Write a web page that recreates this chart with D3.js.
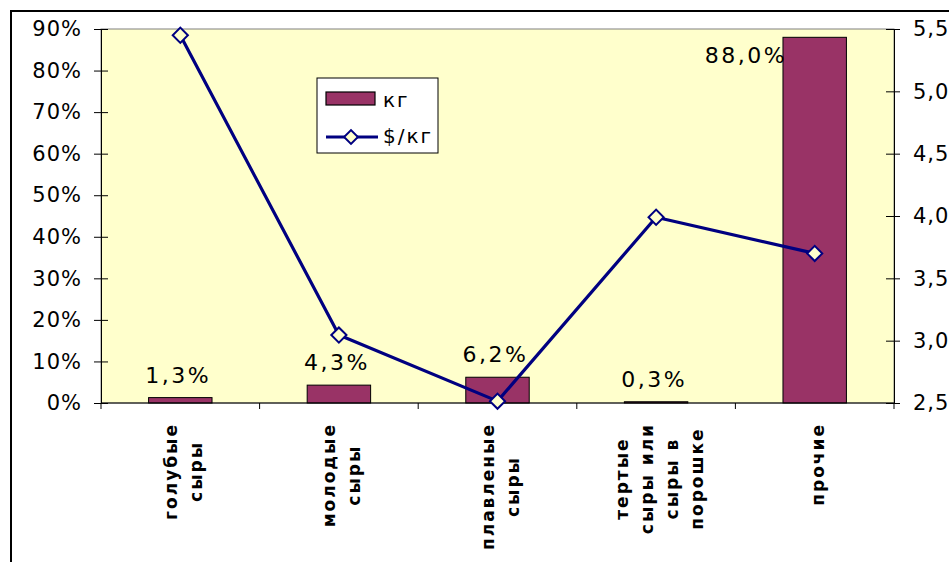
<!DOCTYPE html>
<html>
<head>
<meta charset="utf-8">
<script src="https://cdn.jsdelivr.net/npm/d3@7"></script>
<style>
  html, body { margin: 0; padding: 0; background: #fff; }
  svg { display: block; font-family: "DejaVu Sans", Verdana, sans-serif; }
</style>
</head>
<body>
<svg id="chart" width="949" height="562"></svg>
<script>
// ---- data ----
const categories = [
  ["голубые", "сыры"],
  ["молодые", "сыры"],
  ["плавленые", "сыры"],
  ["тертые", "сыры или", "сыры в", "порошке"],
  ["прочие"]
];
const shareKg = [0.013, 0.043, 0.062, 0.003, 0.880];      // кг (left axis, %)
const pricePerKg = [5.45, 3.045, 2.515, 3.99, 3.70];      // $/кг (right axis)
const shareLabels = ["1,3%", "4,3%", "6,2%", "0,3%", "88,0%"];
const leftTicks = [0, 0.1, 0.2, 0.3, 0.4, 0.5, 0.6, 0.7, 0.8, 0.9];
const rightTicks = [2.5, 3.0, 3.5, 4.0, 4.5, 5.0, 5.5];
const seriesNames = ["кг", "$/кг"];

// ---- layout ----
const svg = d3.select("#chart");
const plot = { left: 101, right: 894, top: 29, bottom: 403 };
const barColor = "#993366", lineColor = "#000080", plotBg = "#FFFFCC";

// outer chart frame
svg.append("rect").attr("x", 11).attr("y", 11).attr("width", 1000).attr("height", 600)
  .attr("fill", "#fff").attr("stroke", "#000").attr("stroke-width", 2);

// plot area
svg.append("rect").attr("x", plot.left).attr("y", plot.top)
  .attr("width", plot.right - plot.left).attr("height", plot.bottom - plot.top)
  .attr("fill", plotBg).attr("stroke", "#808080").attr("stroke-width", 1);

const idx = categories.map((d, i) => i);
const x = d3.scaleBand().domain(idx).range([plot.left, plot.right]).paddingInner(0.6).paddingOuter(0.3);
const xc = i => x(i) + x.bandwidth() / 2;
const step = (plot.right - plot.left) / categories.length;
const yL = d3.scaleLinear().domain([0, 0.9]).range([plot.bottom, plot.top]);
const yR = d3.scaleLinear().domain([2.5, 5.5]).range([plot.bottom, plot.top]);

// bars
svg.append("g").selectAll("rect").data(shareKg).join("rect")
  .attr("x", (d, i) => x(i)).attr("width", x.bandwidth())
  .attr("y", d => yL(d)).attr("height", d => plot.bottom - yL(d))
  .attr("fill", barColor).attr("stroke", "#000").attr("stroke-width", 1);

// data labels
svg.append("g").selectAll("text").data(shareKg).join("text")
  .attr("font-size", 22).attr("letter-spacing", 2.5).attr("fill", "#000")
  .attr("text-anchor", "middle")
  .attr("x", (d, i) => yL(d) - 15 < plot.top + 10 ? x(i) - 37 : xc(i) - 2)
  .attr("y", (d, i) => yL(d) - 15 < plot.top + 10 ? yL(d) + 26 : yL(d) - 15)
  .text((d, i) => shareLabels[i]);

// axes
const fmtPct = d => Math.round(d * 100) + "%";
const gL = svg.append("g").attr("transform", `translate(${plot.left},0)`)
  .call(d3.axisLeft(yL).tickValues(leftTicks).tickFormat(fmtPct).tickSize(7).tickPadding(12));
gL.selectAll(".tick line").attr("x2", -7).attr("x1", 7);

const fmtNum = d => d3.format(".1f")(d).replace(".", ",");
const gR = svg.append("g").attr("transform", `translate(${plot.right},0)`)
  .call(d3.axisRight(yR).tickValues(rightTicks).tickFormat(fmtNum).tickSize(6).tickPadding(13));
gR.selectAll(".tick line").attr("x1", -8).attr("x2", 6);

[gL, gR].forEach(g => {
  g.select(".domain").attr("stroke", "#000");
  g.selectAll(".tick line").attr("stroke", "#000");
  g.selectAll("text").attr("font-size", 21).attr("letter-spacing", 1)
    .attr("fill", "#000").attr("font-family", "DejaVu Sans, Verdana, sans-serif");
});

// bottom axis (category boundaries)
const boundaries = d3.range(categories.length + 1).map(i => plot.left + i * step);
svg.append("line").attr("x1", plot.left).attr("x2", plot.right)
  .attr("y1", plot.bottom).attr("y2", plot.bottom).attr("stroke", "#000");
svg.append("g").selectAll("line").data(boundaries).join("line")
  .attr("x1", d => d).attr("x2", d => d)
  .attr("y1", plot.bottom).attr("y2", plot.bottom + 6).attr("stroke", "#000");

// category labels (rotated)
const lineGap = 25;
categories.forEach((lines, i) => {
  const g = svg.append("g").attr("transform", `translate(${xc(i) + 3},423) rotate(-90)`);
  const texts = g.selectAll("text").data(lines).join("text")
    .attr("font-size", 17).attr("font-weight", "bold").attr("letter-spacing", 2)
    .attr("fill", "#000").attr("text-anchor", "middle")
    .attr("y", (d, j) => (j - (lines.length - 1) / 2) * lineGap)
    .attr("dy", "0.35em")
    .text(d => d);
  let maxLen = 0;
  texts.each(function () { maxLen = Math.max(maxLen, this.getComputedTextLength()); });
  texts.attr("x", -maxLen / 2);
});

// line series
const lineGen = d3.line().x((d, i) => xc(i)).y(d => yR(d));
svg.append("path").datum(pricePerKg).attr("d", lineGen)
  .attr("fill", "none").attr("stroke", lineColor).attr("stroke-width", 3.2).attr("stroke-linejoin", "round");
svg.append("g").selectAll("path").data(pricePerKg).join("path")
  .attr("transform", (d, i) => `translate(${xc(i)},${yR(d)}) rotate(45)`)
  .attr("d", d3.symbol().type(d3.symbolSquare).size(115))
  .attr("fill", plotBg).attr("stroke", lineColor).attr("stroke-width", 2);

// legend
const lg = svg.append("g").attr("transform", "translate(317,78)");
lg.append("rect").attr("width", 121).attr("height", 75)
  .attr("fill", "#fff").attr("stroke", "#000").attr("stroke-width", 1);
lg.append("rect").attr("x", 9).attr("y", 14).attr("width", 49).attr("height", 13)
  .attr("fill", barColor).attr("stroke", "#000").attr("stroke-width", 1.2);
lg.append("line").attr("x1", 9).attr("x2", 61).attr("y1", 59).attr("y2", 59)
  .attr("stroke", lineColor).attr("stroke-width", 3.2);
lg.append("path").attr("transform", "translate(34,59) rotate(45)")
  .attr("d", d3.symbol().type(d3.symbolSquare).size(95))
  .attr("fill", plotBg).attr("stroke", lineColor).attr("stroke-width", 2);
lg.selectAll("text.lbl").data(seriesNames).join("text").attr("class", "lbl")
  .attr("x", 66).attr("y", (d, i) => i === 0 ? 29 : 65)
  .attr("font-size", 20).attr("letter-spacing", 2).attr("fill", "#000")
  .text(d => d);
</script>
</body>
</html>
